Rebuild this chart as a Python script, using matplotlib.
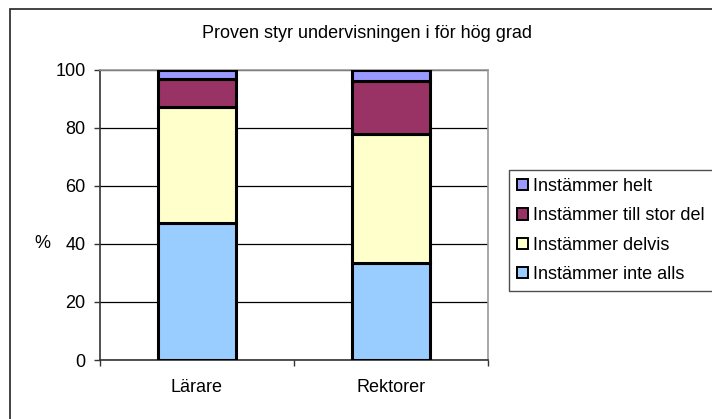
import numpy as np
import matplotlib.pyplot as plt
from matplotlib.patches import Rectangle, Patch

plt.rcParams['font.family'] = ['Liberation Sans', 'DejaVu Sans']

groups = ['Lärare', 'Rektorer']
series = ['Instämmer inte alls', 'Instämmer delvis', 'Instämmer till stor del', 'Instämmer helt']
inte_alls = [47.2, 33.4]
delvis = [40.2, 44.4]
stor_del = [9.6, 18.5]
helt = [3.0, 3.7]
colors = ['#99CCFF', '#FFFFCC', '#993366', '#9999FF']

W, H = 712, 419
fig = plt.figure(figsize=(W / 100, H / 100), dpi=100)
fs = 13

# outer chart frame (cut off on right and bottom)
fig.add_artist(Rectangle((10 / W, -0.2), 1.5, 1.2 - 9 / H, transform=fig.transFigure,
                         fill=False, edgecolor='#222222', linewidth=1.2))

ax = fig.add_axes([100 / W, (H - 360) / H, 388 / W, 290 / H])
x = np.arange(len(groups))
bottom = np.zeros(len(groups))
for vals, col in zip([inte_alls, delvis, stor_del, helt], colors):
    ax.bar(x, vals, width=0.4, bottom=bottom, color=col, edgecolor='black',
           linewidth=2.2, zorder=3)
    bottom += np.array(vals)

ax.set_xlim(-0.5, 1.5)
ax.set_ylim(0, 100)
ax.set_yticks([0, 20, 40, 60, 80, 100])
ax.tick_params(axis='y', labelsize=fs, length=4.5, width=1, pad=6, color='#333333')
ax.set_xticks(x)
ax.set_xticklabels(groups, fontsize=fs)
ax.set_xticks([-0.5, 0.5, 1.5], minor=True)
ax.tick_params(axis='x', which='major', length=0, pad=14)
ax.tick_params(axis='x', which='minor', length=4, width=1, color='#333333')
ax.yaxis.grid(True, color='black', linewidth=0.9, zorder=0)
ax.set_axisbelow(True)
for s in ['top', 'right']:
    ax.spines[s].set_color('#999999')
    ax.spines[s].set_linewidth(1.2)
for s in ['left', 'bottom']:
    ax.spines[s].set_color('#333333')
    ax.spines[s].set_linewidth(1.2)

fig.text(42 / W, 1 - 243 / H, '%', fontsize=fs, ha='center', va='center')
fig.text(367 / W, 1 - 34 / H, 'Proven styr undervisningen i för hög grad',
         fontsize=fs, ha='center', va='center')

handles = [Patch(facecolor=c, edgecolor='black', linewidth=1.4) for c in colors][::-1]
leg = fig.legend(handles, series[::-1], loc='upper left',
                 bbox_to_anchor=(509 / W, 1 - 170 / H), fontsize=fs,
                 frameon=True, fancybox=False, edgecolor='#222222',
                 handlelength=0.6, handleheight=0.6, handletextpad=0.3,
                 labelspacing=0.68, borderpad=0.45, borderaxespad=0)
leg.get_frame().set_linewidth(1.0)

fig.savefig('out.png', dpi=100)
